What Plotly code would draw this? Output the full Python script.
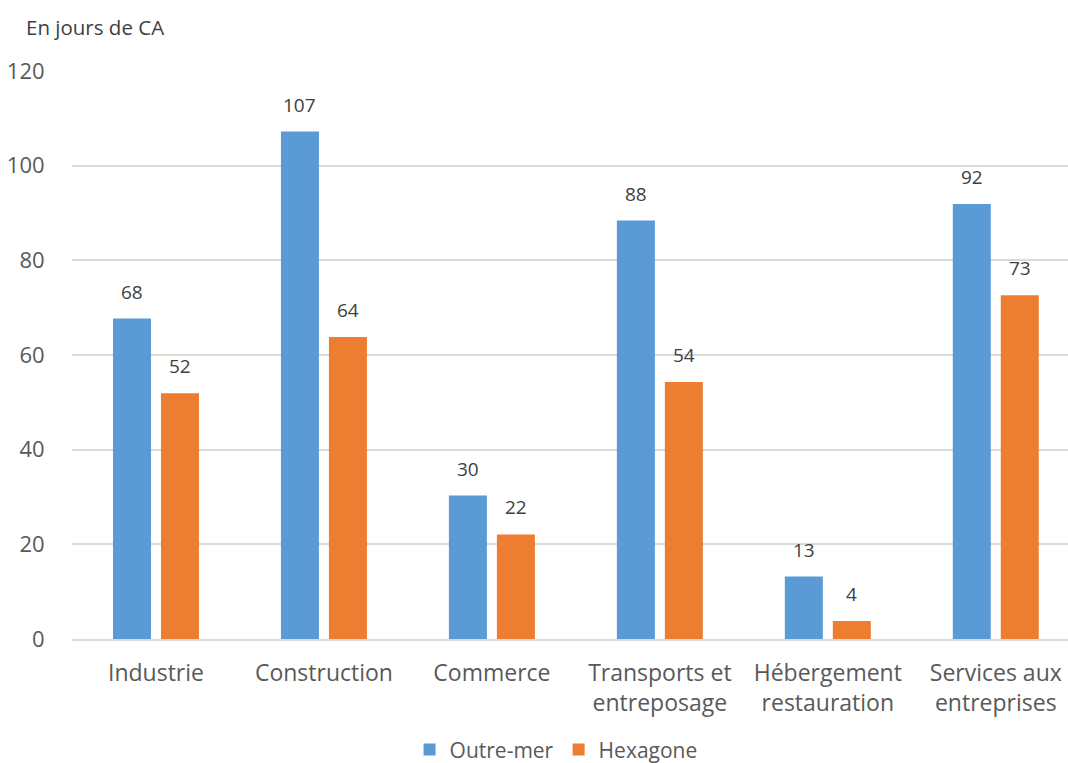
import plotly.graph_objects as go

categories = ["Industrie", "Construction", "Commerce", "Transports et<br>entreposage",
              "Hébergement<br>restauration", "Services aux<br>entreprises"]
outre_mer = [67.7, 107.2, 30.3, 88.4, 13.2, 91.9]
hexagone = [51.9, 63.8, 22.1, 54.3, 3.8, 72.6]
outre_mer_labels = ["68", "107", "30", "88", "13", "92"]
hexagone_labels = ["52", "64", "22", "54", "4", "73"]
y_ticks = [0, 20, 40, 60, 80, 100, 120]

BLUE = "#5B9BD5"
ORANGE = "#ED7D31"
TXT = "#595959"
FONT = "Open Sans"

fig = go.Figure()
fig.add_trace(go.Bar(name="Outre-mer", x=categories, y=outre_mer, marker_color=BLUE,
                     marker_line_width=0))
fig.add_trace(go.Bar(name="Hexagone", x=categories, y=hexagone, marker_color=ORANGE,
                     marker_line_width=0))

for cat, v, lab in zip(categories, outre_mer, outre_mer_labels):
    fig.add_annotation(x=cat, y=v, text=lab, showarrow=False, xshift=-24, yshift=12,
                       yanchor="bottom", font=dict(family=FONT, size=19, color="#404040"))
for cat, v, lab in zip(categories, hexagone, hexagone_labels):
    fig.add_annotation(x=cat, y=v, text=lab, showarrow=False, xshift=24, yshift=12,
                       yanchor="bottom", font=dict(family=FONT, size=19, color="#404040"))

fig.add_annotation(xref="paper", yref="paper", x=-0.048, y=1.05, xanchor="left", yanchor="bottom",
                   text="En jours de CA", showarrow=False,
                   font=dict(family=FONT, size=20.5, color="#404040"))

fig.update_layout(
    width=1068, height=763,
    margin=dict(l=72, r=0, t=71, b=124, pad=0, autoexpand=False),
    paper_bgcolor="white", plot_bgcolor="white",
    barmode="group", bargap=0.4286, bargroupgap=0.208,
    font=dict(family=FONT, color=TXT),
    showlegend=True,
    legend=dict(orientation="h", x=0.486, xanchor="center", y=-0.195, yanchor="middle",
                font=dict(family=FONT, size=21, color=TXT), traceorder="normal",
                itemwidth=30),
    xaxis=dict(range=[-0.5, 5.43], tickfont=dict(family=FONT, size=23, color=TXT),
               showgrid=False, showline=True, linecolor="#D9D9D9", linewidth=2,
               ticks="outside", ticklen=12, tickcolor="rgba(0,0,0,0)",
               zeroline=False, automargin=False),
    yaxis=dict(range=[0, 120], tickvals=y_ticks, tickfont=dict(family=FONT, size=22, color=TXT),
               showgrid=True, gridcolor="#D9D9D9", gridwidth=1.5, zeroline=False,
               showline=False, ticks="outside", ticklen=22, tickcolor="rgba(0,0,0,0)",
               automargin=False),
)

fig.write_html("out.html")
